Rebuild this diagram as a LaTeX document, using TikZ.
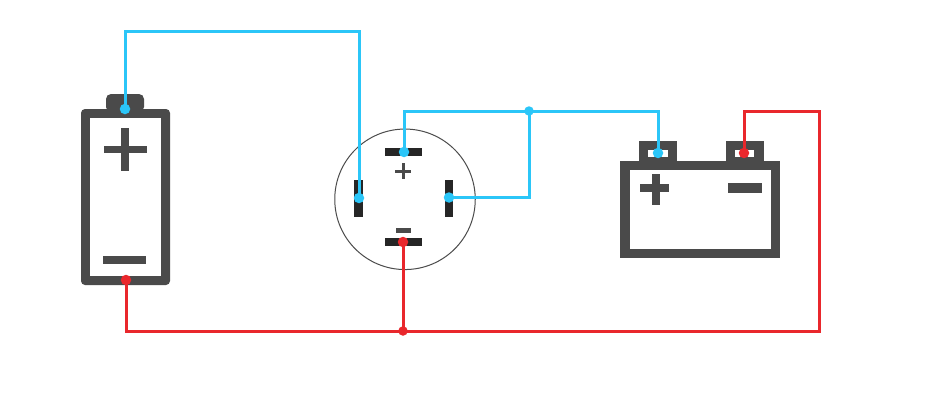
\documentclass[tikz,border=0pt]{standalone}
\definecolor{wireblue}{HTML}{2BC6F8}
\definecolor{wirered}{HTML}{E9272C}
\definecolor{bodygrey}{HTML}{4A4A4A}
\definecolor{pinblack}{HTML}{262626}
\tikzset{
  bodyfill/.style={fill=bodygrey,draw=none},
  pinbar/.style={fill=pinblack,draw=none},
  bluewire/.style={draw=wireblue,line width=3pt,line join=miter},
  redwire/.style={draw=wirered,line width=3pt,line join=miter},
  bluedot/.style={circle,fill=wireblue,draw=none,inner sep=0pt,minimum size=#1},
  bluedot/.default=10.5pt,
  reddot/.style={circle,fill=wirered,draw=none,inner sep=0pt,minimum size=#1},
  reddot/.default=10.5pt,
}
\begin{document}
\begin{tikzpicture}[x=1pt,y=-1pt]
\useasboundingbox (0,0) rectangle (928,412);
\fill[white] (0,0) rectangle (928,412);
% left battery
\fill[bodyfill,rounded corners=5pt] (106,112) -- (106,94) -- (144,94) -- (144,112) -- cycle;
\fill[bodyfill,rounded corners=4pt] (81,109) rectangle (170,285);
\fill[white] (90,118) rectangle (161,276);
\fill[bodyfill] (103.5,146) rectangle (146.7,153.3);
\fill[bodyfill] (121.3,128) rectangle (129.3,170.5);
\fill[bodyfill] (103.3,256) rectangle (146,264);
% switch
\node[circle,draw=black!70,line width=1pt,fill=white,inner sep=0pt,minimum size=140.5pt] (sw) at (405,199.3) {};
\fill[pinbar] (385.3,148) rectangle (422.3,156);
\fill[pinbar] (385.3,238.3) rectangle (422.3,246.3);
\fill[pinbar] (354.3,180) rectangle (363.3,216.5);
\fill[pinbar] (444.7,180) rectangle (453.3,216.5);
\fill[bodyfill] (395.3,169.7) rectangle (411.3,172.5);
\fill[bodyfill] (402,163) rectangle (404.8,179);
\fill[bodyfill] (396.3,228) rectangle (410.7,233);
% right battery
\fill[bodyfill] (639.3,140.7) rectangle (677.3,165);
\fill[bodyfill] (725.7,140.7) rectangle (763.7,165);
\fill[bodyfill] (620,160.7) rectangle (780.3,258.3);
\fill[white] (629.5,170.3) rectangle (771,248.5);
\fill[white] (648.3,150) rectangle (667.7,156.7);
\fill[white] (735.3,150) rectangle (754.3,156.7);
\fill[bodyfill] (640.3,183.7) rectangle (669,191.7);
\fill[bodyfill] (652.3,174) rectangle (660,204.7);
\fill[bodyfill] (728.3,183.3) rectangle (761.7,193);
% connection dots
\node[bluedot] (lbplus) at (125,109) {};
\node[reddot] (lbminus) at (126,280) {};
\node[bluedot] (swleft) at (359,198) {};
\node[bluedot] (swtop) at (404,152) {};
\node[bluedot] (swright) at (449,197.5) {};
\node[reddot] (swbottom) at (403,242) {};
\node[bluedot] (rbplus) at (658,153) {};
\node[reddot] (rbminus) at (744,153) {};
\node[bluedot=9.5pt] (bj) at (529,111) {};
\node[reddot=9.5pt] (rj) at (403,331) {};
% wires
\draw[bluewire] (lbplus.center) -- (125,32) -- (359,32) -- (swleft.center);
\draw[bluewire] (swtop.center) -- (404,111) -- (bj.center) -- (658,111) -- (rbplus.center);
\draw[bluewire] (bj.center) -- (529,197.5) -- (swright.center);
\draw[redwire] (lbminus.center) -- (126,331) -- (rj.center) -- (819,331) -- (819,111) -- (744,111) -- (rbminus.center);
\draw[redwire] (swbottom.center) -- (rj.center);
\end{tikzpicture}
\end{document}
